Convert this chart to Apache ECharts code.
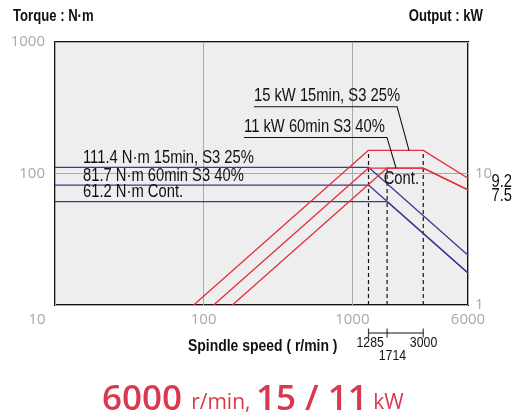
<!DOCTYPE html>
<html><head><meta charset="utf-8">
<script src="https://cdn.jsdelivr.net/npm/echarts@6/dist/echarts.min.js"></script>
<style>html,body{margin:0;padding:0;background:#fff}#c{width:527px;height:415px}</style>
</head><body><div id="c"></div>
<script>
// ---- data ----
const torqueLabels = ['111.4 N·m 15min, S3 25%', '81.7 N·m 60min S3 40%', '61.2 N·m Cont.'];
const torqueValues = [111.4, 81.7, 61.2];
const baseSpeeds = [1285, 1285, 1714];
const torqueAtMax = [23.9, 17.5, 17.5];
const outputStartSpeed = [85.7, 116.8, 156];
const outputRated = [15, 11, 11];
const outputAtMax = [9.2, 7.5, 7.5];
const ratedEndSpeed = 3000;
const minSpeed = 10;
const maxSpeed = 6000;
const bracketSpeeds = [1285, 1714, 3000];
const bracketTop = [15, 11, 15];
const outputNotes = ['15 kW 15min, S3 25%', '11 kW 60min S3 40%'];

const RED = '#e5303c', BLUE = '#3b3896', GRAY = '#a9a9a9';
const OPEN = "'Open Sans','Noto Sans',sans-serif";
const LIB = "'Liberation Sans', Arial, sans-serif";
const SX = 0.82; // condensed look

const series = [];
torqueValues.forEach((t, i) => {
  series.push({
    type: 'line', xAxisIndex: 0, yAxisIndex: 0, symbol: 'none', silent: true,
    lineStyle: { color: BLUE, width: 1.3 }, z: 3,
    data: [[minSpeed, t], [baseSpeeds[i], t], [maxSpeed, torqueAtMax[i]]]
  });
});
outputRated.forEach((p, i) => {
  series.push({
    type: 'line', xAxisIndex: 0, yAxisIndex: 1, symbol: 'none', silent: true,
    lineStyle: { color: RED, width: 1.3 }, z: 4,
    data: [[outputStartSpeed[i], 1], [baseSpeeds[i], p], [ratedEndSpeed, p], [maxSpeed, outputAtMax[i]]]
  });
});
bracketSpeeds.forEach((s, i) => {
  series.push({
    type: 'line', xAxisIndex: 0, yAxisIndex: 1, symbol: 'none', silent: true, z: 2,
    lineStyle: { color: '#111', width: 1.2, type: [4, 3] },
    data: [[s, 1], [s, bracketTop[i]]]
  });
});
// annotation leaders (underline + pointer) in output coordinates
const noteLines = [
  [[218, 32.2], [2000, 32.2], [2405, outputRated[0]]],
  [[187, 18.8], [1710, 18.8], [1968, outputRated[1]]]
];
noteLines.forEach((pts) => {
  series.push({
    type: 'line', xAxisIndex: 0, yAxisIndex: 1, symbol: 'none', silent: true, z: 5,
    lineStyle: { color: '#111', width: 1.1 }, data: pts
  });
});
series.push({
  type: 'line', xAxisIndex: 1, yAxisIndex: 2, symbol: 'none', silent: true,
  lineStyle: { color: '#111', width: 1.1 },
  data: [[bracketSpeeds[0], 0.5], [bracketSpeeds[2], 0.5]]
});
series.push({
  type: 'scatter', xAxisIndex: 1, yAxisIndex: 2, silent: true,
  symbol: 'rect', symbolSize: [1.2, 9], itemStyle: { color: '#111' },
  data: bracketSpeeds.map(s => [s, 0.5])
});

const option = {
  animation: false,
  backgroundColor: '#fff',
  textStyle: { fontFamily: OPEN },
  title: [
    { text: '{a|6000 }{b|r/min, }{a|15 / 11}{b| kW}', left: 97, top: 373,
      textStyle: { rich: {
        a: { fontFamily: OPEN, fontWeight: 600, fontSize: 35, color: '#d9394f', verticalAlign: 'bottom', lineHeight: 40 },
        b: { fontFamily: OPEN, fontWeight: 500, fontSize: 21, color: '#d9394f', verticalAlign: 'bottom', lineHeight: 36, padding: [0, 0, 4, 0] }
      } } }
  ],
  grid: [
    { left: 55, right: 59, top: 42, bottom: 110, show: true, backgroundColor: '#eeeeee', borderColor: '#111', borderWidth: 2, z: 0 },
    { left: 55, right: 59, top: 328, height: 10, show: false }
  ],
  xAxis: [
    { type: 'log', logBase: 10, min: minSpeed, max: maxSpeed, gridIndex: 0,
      axisLine: { show: false }, axisTick: { show: false },
      splitLine: { show: true, lineStyle: { color: GRAY, width: 1 } },
      axisLabel: { color: GRAY, fontSize: 15, margin: 7, fontFamily: OPEN,
        formatter: v => (Math.round(v) === minSpeed ? '{m|' + minSpeed + '}' : String(Math.round(v))),
        rich: { m: { color: GRAY, fontSize: 15, fontFamily: OPEN, padding: [0, 36, 0, 0] } } } },
    { type: 'log', logBase: 10, min: minSpeed, max: maxSpeed, gridIndex: 1, show: false }
  ],
  yAxis: [
    { type: 'log', logBase: 10, min: 10, max: 1000, gridIndex: 0,
      axisLine: { show: false }, axisTick: { show: false },
      splitLine: { show: true, lineStyle: { color: GRAY, width: 1 } },
      axisLabel: { color: GRAY, fontSize: 15, margin: 10, showMinLabel: false, fontFamily: OPEN,
        formatter: v => String(Math.round(v)) } },
    { type: 'log', logBase: 10, min: 1, max: 100, gridIndex: 0, position: 'right',
      axisLine: { show: false }, axisTick: { show: false }, splitLine: { show: false },
      axisLabel: { color: GRAY, fontSize: 15, margin: 7, showMaxLabel: false, fontFamily: OPEN,
        formatter: v => String(Math.round(v)) } },
    { type: 'value', min: 0, max: 1, gridIndex: 1, show: false }
  ],
  series
};
const chart = echarts.init(document.getElementById('c'), null, { renderer: 'canvas' });
chart.setOption(option);

// ---- texts anchored to data positions ----
function txt(text, x, y, opt) {
  opt = opt || {};
  return {
    type: 'text', x: x, y: y, scaleX: SX, z: 100, silent: true,
    style: { text: text, fill: opt.color || '#111', align: opt.align || 'left', verticalAlign: 'middle',
      font: (opt.weight || 'normal') + ' ' + (opt.size || 18) + 'px ' + LIB }
  };
}
const T = (x, y) => chart.convertToPixel({ xAxisIndex: 0, yAxisIndex: 0 }, [x, y]);
const O = (x, y) => chart.convertToPixel({ xAxisIndex: 0, yAxisIndex: 1 }, [x, y]);
const B = (x, y) => chart.convertToPixel({ xAxisIndex: 1, yAxisIndex: 2 }, [x, y]);
const g = [];
torqueValues.forEach((t, i) => {
  const p = T(minSpeed, t);
  g.push(txt(torqueLabels[i], p[0] + 28, p[1] - 9.5));
});
noteLines.forEach((pts, i) => {
  const p = O(pts[0][0], pts[0][1]);
  g.push(txt(outputNotes[i], p[0], p[1] - 10.5));
});
{
  const k = O(baseSpeeds[2], outputRated[2]);
  g.push(txt('Cont.', k[0] - 3.4, k[1] + 11));
}
[0, 1].forEach(i => {
  const p = O(maxSpeed, outputAtMax[i]);
  g.push(txt(String(outputAtMax[i]), p[0] + 23.5, p[1] + (i === 0 ? 3.4 : 6.1)));
});
bracketSpeeds.forEach((s, i) => {
  const p = B(s, 0.5);
  const dx = [1.7, 5.3, 0.3][i], dy = [10, 23, 10][i];
  g.push(txt(String(s), p[0] + dx, p[1] + dy, { size: 15, align: 'center' }));
});
g.push(txt('Torque : N·m', 13, 17, { weight: 'bold', size: 16 }));
g.push(txt('Output : kW', 483, 17, { weight: 'bold', size: 16, align: 'right' }));
g.push(txt('Spindle speed ( r/min )', 188, 346, { weight: 'bold', size: 17 }));
chart.setOption({ graphic: g });
</script></body></html>
